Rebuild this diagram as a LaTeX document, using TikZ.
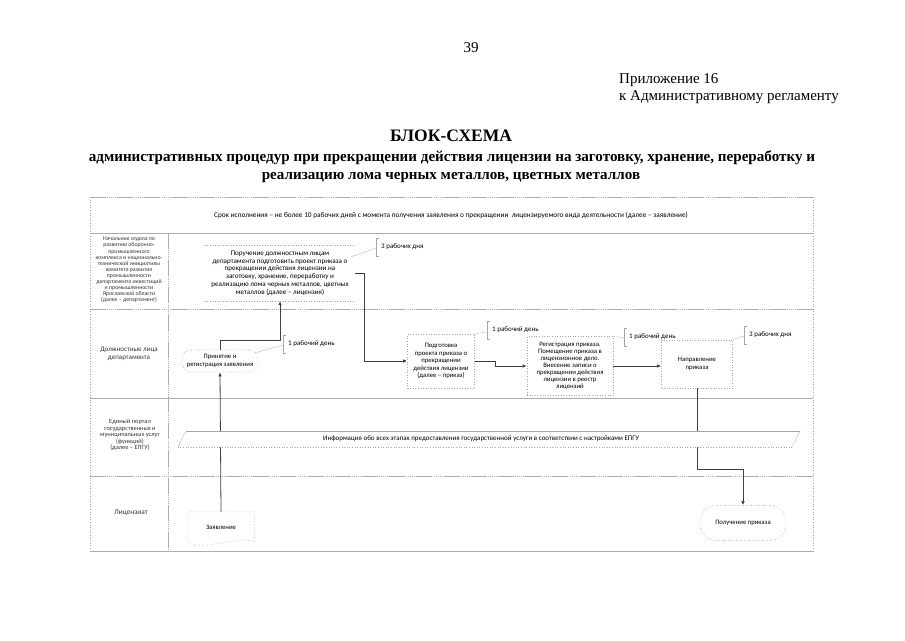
\documentclass[tikz,border=0pt]{standalone}
\usepackage{fontspec}
\setmainfont{Liberation Serif}
\newfontfamily\boxfont{Carlito}
\usetikzlibrary{arrows.meta}

\begin{document}
\begin{tikzpicture}[x=1pt, y=-1pt,
	lane/.style={draw=gray!65, line width=0.7pt, dash pattern=on 16pt off 1.2pt on 0.8pt off 1.2pt on 0.8pt off 1.2pt on 0.8pt off 1.2pt on 0.8pt off 1.2pt on 0.8pt off 1.2pt},
	border/.style={draw=gray!70, line width=0.6pt, dotted},
	proc/.style={draw=gray!70, dotted, line width=0.6pt, align=center, font=\boxfont\fontsize{6.7}{7.6}\selectfont, inner sep=1pt},
	term/.style={proc, rounded corners=9pt},
	txt/.style={align=center, font=\boxfont\fontsize{6.7}{7.6}\selectfont, inner sep=0pt},
	lbl/.style={align=center, font=\boxfont\fontsize{5.8}{6.1}\selectfont, inner sep=0pt, text=black!80},
	note/.style={anchor=west, font=\boxfont\fontsize{7}{8}\selectfont, inner sep=0pt},
	brk/.style={draw=gray!70, line width=0.5pt},
	lead/.style={draw=gray!70, line width=0.5pt, dash pattern=on 1.5pt off 1pt},
	wire/.style={draw=black!75, line width=0.8pt, -{Latex[length=4pt,width=3.5pt]}}
]
	\useasboundingbox (0,0) rectangle (905,640);
	% Header:
	\node[anchor=base, inner sep=0pt] (pagenum) at (471,52) {\fontsize{15}{17}\selectfont 39};
	\node[anchor=base west, inner sep=0pt] (appx) at (619,83) {\fontsize{15}{17}\selectfont Приложение 16};
	\node[anchor=base west, inner sep=0pt] (reglt) at (619,100) {\fontsize{15}{17}\selectfont к Административному регламенту};
	\node[anchor=base, inner sep=0pt] (title) at (451,141) {\fontsize{17.5}{20}\selectfont\bfseries БЛОК-СХЕМА};
	\node[anchor=base, inner sep=0pt] (subtitle) at (452,161) {\fontsize{15.1}{18}\selectfont\bfseries административных процедур при прекращении действия лицензии на заготовку, хранение, переработку и};
	\node[anchor=base, inner sep=0pt] (subtitlb) at (451,179) {\fontsize{15.1}{18}\selectfont\bfseries реализацию лома черных металлов, цветных металлов};

	% Table:
	\draw[lane] (90,197) -- (813,197);
	\draw[gray!65, line width=0.7pt] (90,233) -- (813,233);
	\draw[lane] (90,309) -- (813,309);
	\draw[gray!65, line width=0.7pt] (90,398) -- (813,398);
	\draw[lane] (90,476) -- (813,476);
	\draw[gray!65, line width=0.7pt] (90,551) -- (813,551);
	\draw[border] (90,197) -- (90,551);
	\draw[border] (813,197) -- (813,551);
	\draw[lane] (168,233) -- (168,551);

	\node[txt, font=\boxfont\fontsize{7.3}{8}\selectfont] (limit) at (451,215) {Срок исполнения – не более 10 рабочих дней с момента получения заявления о прекращении\ \ лицензируемого вида деятельности (далее – заявление)};

	% Lanes:
	\node[lbl] (chief) at (129,270) {Начальник отдела по\\развитию оборонно-\\промышленного\\комплекса и национально-\\технической инициативы\\комитета развития\\промышленности\\департамента инвестиций\\и промышленности\\Ярославской области\\(далее – департамент)};
	\node[lbl, font=\boxfont\fontsize{7}{7.5}\selectfont] (staff) at (129,354) {Должностные лица\\департамента};
	\node[lbl, font=\boxfont\fontsize{6.4}{6.4}\selectfont] (portal) at (130,435) {Единый портал\\государственных и\\муниципальных услуг\\(функций)\\(далее – ЕПГУ)};
	\node[lbl, font=\boxfont\fontsize{7.3}{8}\selectfont] (client) at (131,513) {Лицензиат};

	% Steps:
	\node[txt, minimum width=150pt, minimum height=56pt, font=\boxfont\fontsize{7.1}{7.8}\selectfont] (instr) at (280,273) {Поручение должностным лицам\\департамента подготовить проект приказа о\\прекращении действия лицензии на\\заготовку, хранение, переработку и\\реализацию лома черных металлов, цветных\\металлов (далее – лицензия)};
	\draw[border] (instr.north west) -- (instr.north east);
	\draw[border] (instr.south west) -- (instr.south east);
	\node[term, minimum width=76pt, minimum height=22pt] (accept) at (220,361) {Принятие и\\регистрация заявления};
	\node[proc, minimum width=67pt, minimum height=54pt] (prep) at (441,361) {Подготовка\\проекта приказа о\\прекращении\\действия лицензии\\(далее – приказ)};
	\node[proc, minimum width=86pt, minimum height=59pt, font=\boxfont\fontsize{6.7}{7}\selectfont] (reg) at (570,366) {Регистрация приказа.\\Помещение приказа в\\лицензионное дело.\\Внесение записи о\\прекращении действия\\лицензии в реестр\\лицензий};
	\node[proc, minimum width=71pt, minimum height=48pt] (dir) at (697,364) {Направление\\приказа};
	\node[txt, minimum width=66pt, minimum height=30pt] (app) at (221,527) {Заявление};
	\draw[border] (app.south west) -- (app.north west) -- (app.north east) -- (app.south east) .. controls ++(-15,-8) and ([shift={(15,10)}]app.south west) .. (app.south west);
	\node[term, minimum width=86pt, minimum height=35pt, rounded corners=16pt] (recv) at (743,523) {Получение приказа};

	% Terms:
	\node[note] (n1) at (381,247) {3 рабочих дня};
	\draw[brk] ([shift={(-2,-9)}]n1.west) -- ++(-3,0) -- ++(0,18) -- ++(3,0);
	\draw[lead] ([shift={(-4,12)}]instr.north east) -- ([shift={(-5,1)}]n1.west);
	\node[note] (n2) at (288,344) {1 рабочий день};
	\draw[brk] ([shift={(-2,-9)}]n2.west) -- ++(-3,0) -- ++(0,18) -- ++(3,0);
	\draw[lead] ([shift={(-4,-8)}]accept.east) -- ([shift={(-5,1)}]n2.west);
	\node[note] (n3) at (492,330) {1 рабочий день};
	\draw[brk] ([shift={(-2,-9)}]n3.west) -- ++(-3,0) -- ++(0,18) -- ++(3,0);
	\draw[lead] (prep.north east) -- ([shift={(-5,2)}]n3.west);
	\node[note] (n4) at (629,337) {1 рабочий день};
	\draw[brk] ([shift={(-2,-9)}]n4.west) -- ++(-3,0) -- ++(0,18) -- ++(3,0);
	\draw[lead] (reg.north east) -- ([shift={(-5,1)}]n4.west);
	\node[note] (n5) at (749,335) {3 рабочих дня};
	\draw[brk] ([shift={(-2,-9)}]n5.west) -- ++(-3,0) -- ++(0,18) -- ++(3,0);
	\draw[lead] (dir.north east) -- ([shift={(-5,1)}]n5.west);

	% Paths:
	\draw[wire] (app.north) -- (accept.south);
	\draw[wire] (accept.north) -- ++(0,-9) -| (instr.south);
	\draw[wire] (instr.east) -- ++(9,0) |- (prep.west);
	\draw[wire] (prep.east) -- ++(21,0) |- (reg.west);
	\draw[wire] (reg.east) -- (reg.east -| dir.west);
	\draw[wire] (dir.south) -- ++(0,81) -| (recv.north);

	% ЕПГУ band:
	\fill[white] (186,431) -- (800,431) -- (792,447) -- (178,447) -- cycle;
	\draw[gray!70, line width=0.6pt] (186,431) -- (800,431);
	\draw[border] (792,447) -- (178,447);
	\draw[lead] (800,431) -- (792,447);
	\draw[lead] (178,447) -- (186,431);
	\node[txt, font=\boxfont\fontsize{7}{8}\selectfont] (info) at (481,439) {Информация обо всех этапах предоставления государственной услуги в соответствии с настройками ЕПГУ};
\end{tikzpicture}
\end{document}
